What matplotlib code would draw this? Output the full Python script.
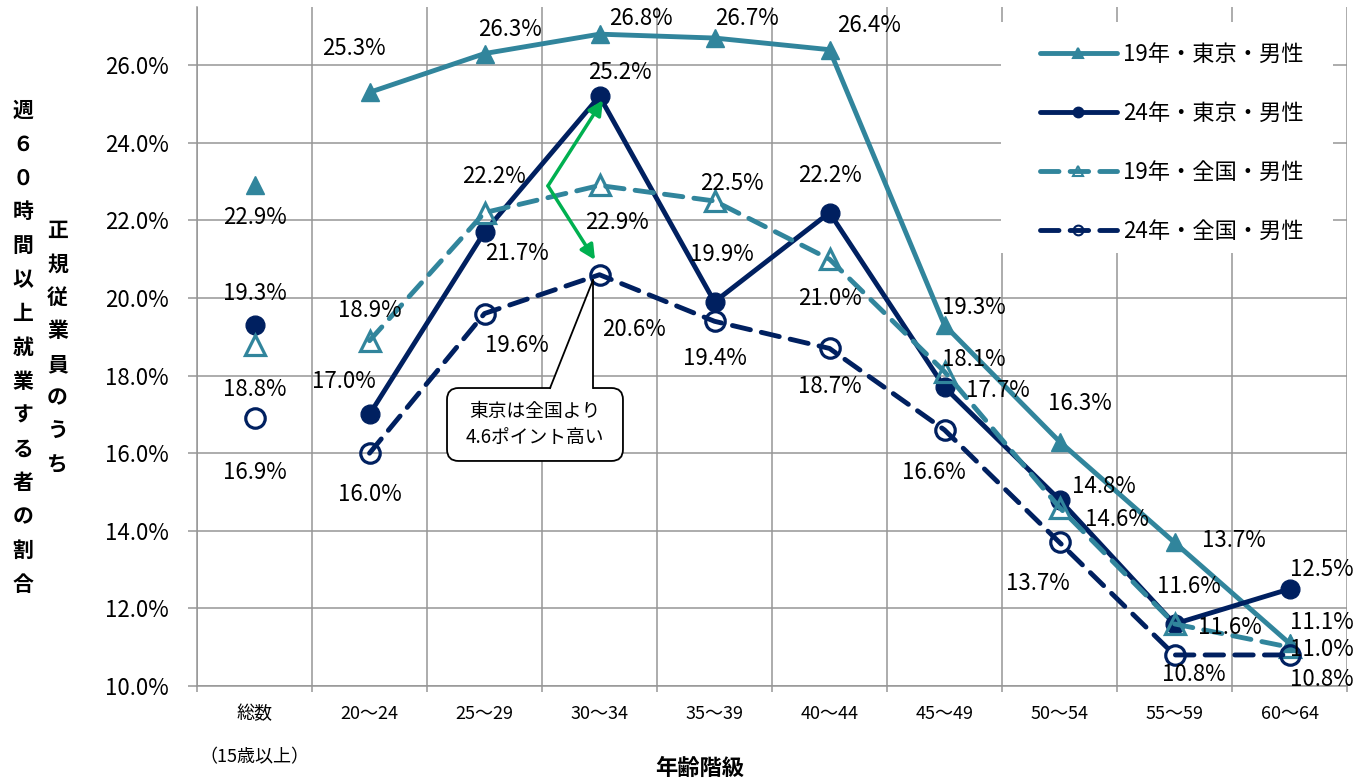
import numpy as np
import matplotlib
matplotlib.use("Agg")
import matplotlib.pyplot as plt
from matplotlib.lines import Line2D
from matplotlib.patches import FancyBboxPatch, Polygon, Rectangle

plt.rcParams['font.family'] = ['Noto Sans CJK JP', 'DejaVu Sans']

# データ
categories = ['総数', '20～24', '25～29', '30～34', '35～39', '40～44',
              '45～49', '50～54', '55～59', '60～64']
tokyo19 = [22.9, 25.3, 26.3, 26.8, 26.7, 26.4, 19.3, 16.3, 13.7, 11.1]
tokyo24 = [19.3, 17.0, 21.7, 25.2, 19.9, 22.2, 17.7, 14.8, 11.6, 12.5]
zenkoku19 = [18.8, 18.9, 22.2, 22.9, 22.5, 21.0, 18.1, 14.6, 11.6, 11.0]
zenkoku24 = [16.9, 16.0, 19.6, 20.6, 19.4, 18.7, 16.6, 13.7, 10.8, 10.8]
names = ['19年・東京・男性', '24年・東京・男性', '19年・全国・男性', '24年・全国・男性']

# ラベルの位置ずれ (pixel)
off19t = [(0, -32), (-16, 44), (25, 24), (41, 16), (32, 20), (40, 24), (29, 18), (20, 38), (59, 2), (32, 21)]
off24t = [(0, 32), (-26, 33), (32, -21), (20, 24), (7, 47), (0, 37), (53, -3), (44, 13), (14, 37), (32, 20)]
off19z = [(0, -45), (0, 30), (9, 36), (17, -37), (17, 18), (0, -39), (29, 12), (57, -12), (55, -4), (32, -2)]
off24z = [(0, -54), (0, -41), (32, -32), (34, -55), (0, -37), (0, -38), (-11, -43), (-22, -41), (19, -20), (32, -25)]

TEAL = '#31859C'
NAVY = '#002060'
GRID = '#969696'

W, H = 1355, 781
fig = plt.figure(figsize=(W / 100, H / 100), dpi=100)
ax = fig.add_axes([197 / W, (H - 686) / H, (1347 - 197) / W, (686 - 7) / H])

x = np.arange(len(categories))

styles = [
    dict(color=TEAL, marker='^', ms=13.5, mfc=TEAL, mec=TEAL, ls='-'),
    dict(color=NAVY, marker='o', ms=13.5, mfc=NAVY, mec=NAVY, ls='-'),
    dict(color=TEAL, marker='^', ms=14, mfc='none', mec=TEAL, mew=2.3, ls='--'),
    dict(color=NAVY, marker='o', ms=14, mfc='none', mec=NAVY, mew=2.3, ls='--'),
]
series = [tokyo19, tokyo24, zenkoku19, zenkoku24]
offsets = [off19t, off24t, off19z, off24z]

for vals, st, offs in zip(series, styles, offsets):
    kw = dict(st)
    ls = kw.pop('ls')
    extra = dict(dashes=(3.8, 2.3), dash_capstyle='round') if ls == '--' else {}
    # 総数は線でつながない
    ax.plot(x[1:], vals[1:], lw=3.5, zorder=3, **extra, **kw)
    ax.plot(x[:1], vals[:1], lw=0, zorder=3, **kw)
    for xi, v, (dx, dy) in zip(x, vals, offs):
        ax.annotate(f'{v:.1f}%', (xi, v), xytext=(dx, dy), textcoords='offset pixels',
                    ha='center', va='center', fontsize=16, color='black', zorder=8)

# 軸
ax.set_xlim(-0.5, 9.5)
ax.set_ylim(10, 27.5)
ax.set_yticks(np.arange(10, 27, 2))
ax.set_yticklabels([f'{t:.1f}%' for t in np.arange(10, 27, 2)], fontsize=16)
ax.set_xticks(x)
ax.set_xticklabels(categories, fontsize=13)
ax.set_xticks(np.arange(-0.5, 10, 1), minor=True)
ax.tick_params(axis='x', which='major', length=0, pad=14)
ax.tick_params(axis='x', which='minor', length=4.5, width=1.1, color=GRID)
ax.tick_params(axis='y', length=6.5, width=1.1, color=GRID, pad=14)
ax.set_axisbelow(True)
ax.grid(axis='y', which='major', color=GRID, lw=1.1)
ax.grid(axis='x', which='minor', color=GRID, lw=1.1)
for s in ['top', 'right']:
    ax.spines[s].set_visible(False)
for s in ['left', 'bottom']:
    ax.spines[s].set_color(GRID)
    ax.spines[s].set_linewidth(1.1)

ax.text(0, -0.105, '（15歳以上）', transform=ax.get_xaxis_transform(),
        ha='center', va='center', fontsize=13)
fig.text(700 / W, 1 - 768 / H, '年齢階級', ha='center', va='center',
         fontsize=16, fontweight='bold')

# 縦書きの軸タイトル
for i, ch in enumerate('週６０時間以上就業する者の割合'):
    fig.text(23 / W, 1 - (110 + i * 33.9) / H, ch, ha='center', va='center',
             fontsize=15, fontweight='bold')
for i, ch in enumerate('正規従業員のうち'):
    fig.text(57.5 / W, 1 - (230 + i * 33.6) / H, ch, ha='center', va='center',
             fontsize=15, fontweight='bold')

# 凡例 (白い背景)
ax.add_patch(Rectangle((1001 / W, 1 - 253 / H), 332 / W, 231 / H, transform=fig.transFigure,
                       facecolor='white', edgecolor='none', zorder=1))
handles = []
for st in styles:
    kw = dict(st)
    ls = kw.pop('ls')
    kw['ms'] = 7
    kw.pop('mew', None)
    extra = dict(dashes=(3.8, 2.3), dash_capstyle='round') if ls == '--' else dict(solid_capstyle='round')
    handles.append(Line2D([], [], lw=3.5, mew=1.5, **extra, **kw))
ax.legend(handles, names, loc='upper left', bbox_to_anchor=(1040 / W, 1 - 43 / H),
          bbox_transform=fig.transFigure, frameon=False, fontsize=16,
          handlelength=3.45, handletextpad=0.3, labelspacing=1.62, borderpad=0, borderaxespad=0)

# 吹き出し
a = 115 / 38.8
box = FancyBboxPatch((1.674, 15.80), 3.204 - 1.674, 17.68 - 15.80,
                     boxstyle='round,pad=0,rounding_size=0.1', mutation_aspect=a,
                     facecolor='white', edgecolor='black', lw=1.3, zorder=5)
ax.add_patch(box)
ax.add_patch(Polygon([(2.570, 17.62), (2.943, 20.46), (2.943, 17.62)], closed=True,
                     facecolor='white', edgecolor='none', zorder=6))
ax.plot([2.570, 2.943], [17.68, 20.46], color='black', lw=1.3, zorder=7)
ax.plot([2.943, 2.943], [17.68, 20.46], color='black', lw=1.3, zorder=7)
ax.text(2.439, 16.74, '東京は全国より\n4.6ポイント高い', ha='center', va='center',
        fontsize=13.5, linespacing=1.3, zorder=8)

# 緑の矢印
start = (2.552, 22.89)
for end in [(3.03, 25.10), (2.961, 20.98)]:
    ax.annotate('', xy=end, xytext=start,
                arrowprops=dict(arrowstyle='-|>', color='#00B050', lw=2.5,
                                mutation_scale=22, shrinkA=0, shrinkB=0),
                zorder=9)

fig.savefig('out.png', dpi=100)
